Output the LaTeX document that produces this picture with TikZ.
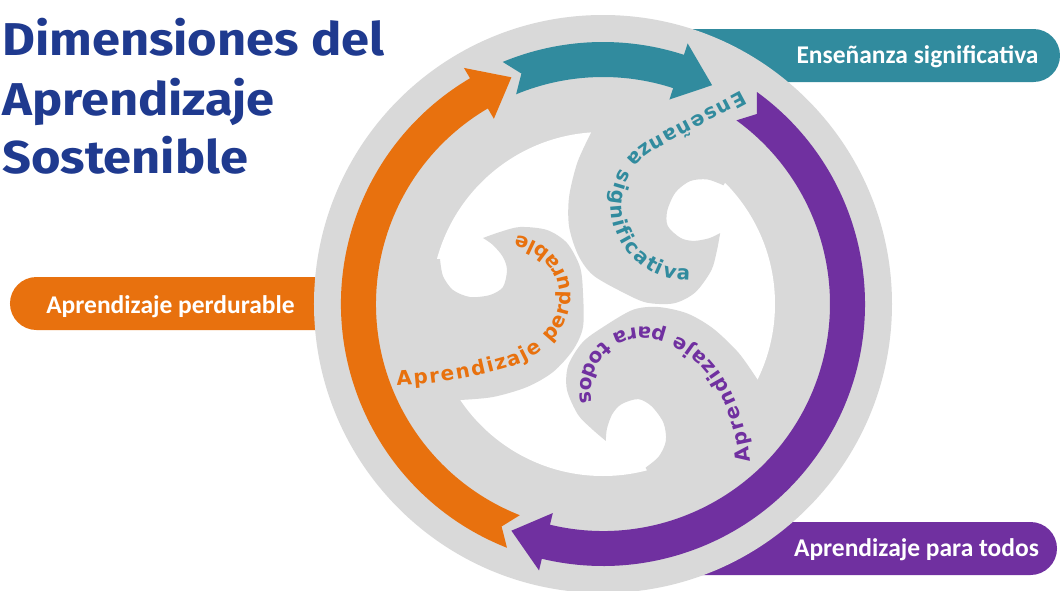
\documentclass[tikz,border=0pt]{standalone}
\usepackage{fontspec}
\setmainfont{DejaVu Sans}
\newfontfamily\titlefont{Fira Sans}
\newfontfamily\bannerfont{Carlito}
\newfontfamily\insidefont{DejaVu Sans}
\usetikzlibrary{decorations.text}
\definecolor{ringgrey}{RGB}{217,217,217}
\definecolor{orangeC}{RGB}{232,113,14}
\definecolor{tealC}{RGB}{49,139,158}
\definecolor{purpleC}{RGB}{112,48,160}
\definecolor{titleblue}{RGB}{31,58,143}
% ring arrow: colour, tail angle, notch apex angle, head base angle, tip angle
\newcommand{\ringarrow}[5]{%
  \fill[#1] (#2:262) arc[start angle=#2, end angle=#4, radius=262] -- (#4:274) -- (#5:244.5) -- (#4:215) -- (#4:227) arc[start angle=#4, end angle=#2, radius=227] -- (#3:244.5) -- cycle;}
\newcommand{\commashape}{%
  \fill[ringgrey] plot[smooth] coordinates {(-143,-96) (-110,-93) (-76,-83) (-50,-68) (-30,-46) (-20,-23) (-20,11) (-23,37) (-36,61) (-56,74) (-83,77) (-103,72) (-120,66)}
   -- plot[smooth] coordinates {(-120,66) (-110,59) (-100,47) (-96,34) (-100,17) (-113,9) (-133,7) (-150,14) (-160,28) (-163,45)}
   -- (-200,45) -- (-210,-30) -- (-190,-100) -- (-155,-125) -- cycle;}
\newcommand{\wideTitle}[1]{\scalebox{1.1}[1]{#1}}
\newcommand{\curvefont}{\insidefont\bfseries\fontsize{20}{20}\selectfont\kern1.8pt}
\tikzset{
  bannertext/.style={anchor=base, inner sep=0pt, text=white, font=\bannerfont\bfseries\fontsize{25.5}{25.5}\selectfont},
  titletext/.style={anchor=base west, inner sep=0pt, text=titleblue, font=\titlefont\bfseries\fontsize{46}{46}\selectfont},
  curvedtext/.style={decorate, decoration={text along path, text color=#1}}
}
\begin{document}
\begin{tikzpicture}[x=1pt,y=1pt]
\useasboundingbox (-603,-286) rectangle (457,304);
\fill[white] (-603,-286) rectangle (457,304);
% banners
\fill[orangeC, rounded corners=26.5pt] (-593,-26) rectangle (-240,27);
\fill[tealC, rounded corners=26.5pt] (40,222) rectangle (457,275);
\fill[purpleC, rounded corners=26.5pt] (40,-271) rectangle (454,-218);
% grey disc and white inner disc
\fill[ringgrey] (0,0) circle[radius=289];
\fill[white] (0,0) circle[radius=172];
% triskelion commas
\commashape
\begin{scope}[rotate=-120]\commashape\end{scope}
\begin{scope}[rotate=120]\commashape\end{scope}
% ring arrows
\ringarrow{orangeC}{248.5}{245.5}{120.5}{112}
\ringarrow{tealC}{112.5}{109.5}{72}{63.5}
\ringarrow{purpleC}{54}{51}{-103.5}{-112}
% curved texts
\path[curvedtext=orangeC, decoration={text={|\curvefont|Aprendizaje perdurable}}]
  (-208,-82) arc[start angle=-88, end angle=-73, radius=450] arc[start angle=-73, end angle=-40, radius=95] arc[start angle=-40, end angle=150, radius=62];
\path[curvedtext=tealC, decoration={text={|\curvefont|Enseñanza significativa}}]
  (140,214) -- (48,165) arc[start angle=118, end angle=310, radius=75];
\path[curvedtext=purpleC, decoration={text={|\curvefont|Aprendizaje para todos}}]
  (148,-159) arc[start angle=5, end angle=30, radius=200] arc[start angle=30, end angle=75, radius=110] arc[start angle=75, end angle=240, radius=62];
% banner labels
\node[bannertext] (lblorange) at (-432.5,-9.3) {Aprendizaje perdurable};
\node[bannertext] (lblteal) at (314.5,240.7) {Enseñanza significativa};
\node[bannertext] (lblpurple) at (313.5,-252.7) {Aprendizaje para todos};
% title
\node[titletext] (title1) at (-601,249) {\wideTitle{Dimensiones del}};
\node[titletext] (title2) at (-601,189) {\wideTitle{Aprendizaje}};
\node[titletext] (title3) at (-601,131) {\wideTitle{Sostenible}};
\end{tikzpicture}
\end{document}
